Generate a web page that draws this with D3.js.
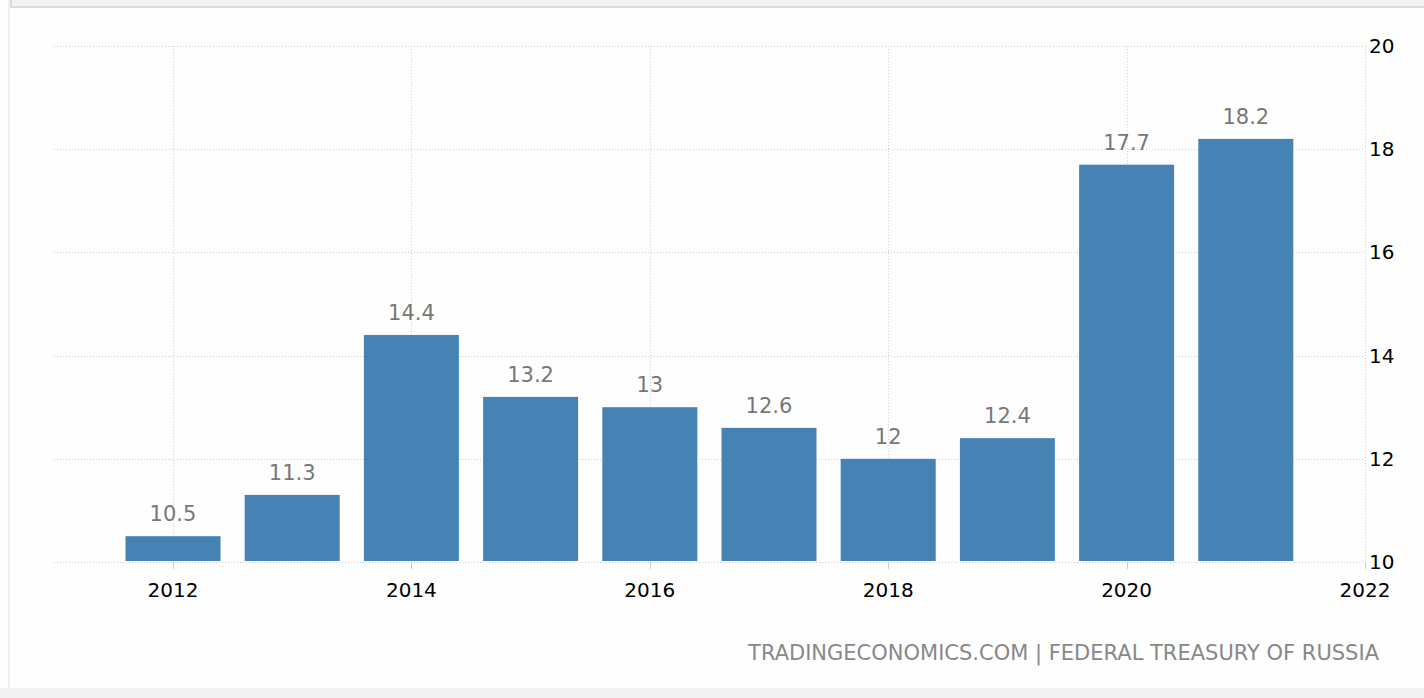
<!DOCTYPE html>
<html><head><meta charset="utf-8">
<script src="https://cdn.jsdelivr.net/npm/d3@7"></script>
<style>html,body{margin:0;padding:0;background:#fff;overflow:hidden}</style>
</head><body>
<script>
const years = [2012,2013,2014,2015,2016,2017,2018,2019,2020,2021];
const values = [10.5,11.3,14.4,13.2,13,12.6,12,12.4,17.7,18.2];
const valueLabels = ["10.5","11.3","14.4","13.2","13","12.6","12","12.4","17.7","18.2"];
const yTicks = [10,12,14,16,18,20];
const xTicks = [2012,2014,2016,2018,2020,2022];
const sourceText = "TRADINGECONOMICS.COM | FEDERAL TREASURY OF RUSSIA";

const W=1424,H=698;
const svg=d3.select("body").append("svg").attr("width",W).attr("height",H);
const font="'DejaVu Sans',sans-serif";

// frame decorations
svg.append("rect").attr("x",0).attr("y",0).attr("width",W).attr("height",H).attr("fill","#fefefe");
svg.append("rect").attr("x",8).attr("y",0).attr("width",2).attr("height",688).attr("fill","#f0f0f0");
svg.append("rect").attr("x",11).attr("y",-10).attr("width",W).attr("height",17).attr("fill","#f3f3f3").attr("stroke","#dcdcdc").attr("stroke-width",2);
svg.append("rect").attr("x",0).attr("y",688).attr("width",W).attr("height",10).attr("fill","#f3f3f3");

const x=d3.scaleLinear().domain([2012,2022]).range([173,1365]);
const y=d3.scaleLinear().domain([10,20]).range([562,46]);
const left=54,right=1365;
const bw=95;

// grid
const g=svg.append("g");
g.selectAll(".hg").data(yTicks).join("line")
 .attr("x1",left).attr("x2",right).attr("y1",d=>Math.round(y(d))+0.5).attr("y2",d=>Math.round(y(d))+0.5)
 .attr("stroke","#cfcfcf").attr("stroke-dasharray","1,2");
g.selectAll(".vg").data(xTicks).join("line")
 .attr("x1",d=>Math.round(x(d))+0.5).attr("x2",d=>Math.round(x(d))+0.5).attr("y1",46).attr("y2",562)
 .attr("stroke","#cfcfcf").attr("stroke-dasharray","1,2");

// bars
svg.selectAll(".bar").data(years).join("rect")
 .attr("x",(d)=>x(d)-bw/2).attr("width",bw)
 .attr("y",(d,i)=>y(values[i])).attr("height",(d,i)=>y(10)-1-y(values[i]))
 .attr("fill","#4682b4");

// value labels
svg.selectAll(".vl").data(years).join("text")
 .attr("x",d=>x(d)).attr("y",(d,i)=>y(values[i])-15)
 .attr("text-anchor","middle").attr("font-family",font).attr("font-size",21)
 .attr("fill","#777").text((d,i)=>valueLabels[i]);

// x axis ticks + labels
svg.selectAll(".xt").data(xTicks).join("line")
 .attr("x1",d=>Math.round(x(d))+0.5).attr("x2",d=>Math.round(x(d))+0.5).attr("y1",562).attr("y2",569)
 .attr("stroke","#ccc");
svg.selectAll(".xl").data(xTicks).join("text")
 .attr("x",d=>x(d)).attr("y",597).attr("text-anchor","middle")
 .attr("font-family",font).attr("font-size",20).attr("fill","#000").text(d=>d);

// y labels
svg.selectAll(".yl").data(yTicks).join("text")
 .attr("x",1369).attr("y",d=>y(d)+7).attr("font-family",font).attr("font-size",20).attr("fill","#000").text(d=>d);

// source
svg.append("text").attr("x",1379).attr("y",660).attr("text-anchor","end")
 .attr("font-family",font).attr("font-size",21).attr("fill","#888").text(sourceText);
</script>
</body></html>
